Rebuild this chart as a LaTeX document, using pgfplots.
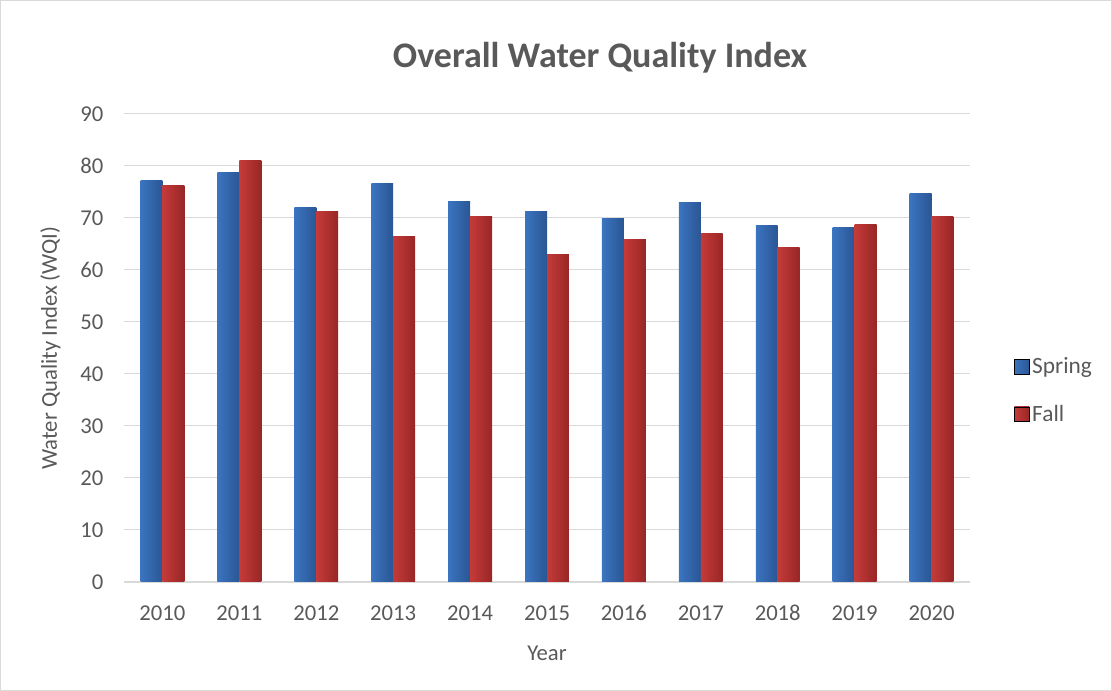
\documentclass[border=0pt]{standalone}
\usepackage{pgfplots}
\pgfplotsset{compat=1.18}
\usepackage{fontspec}
\setmainfont{Carlito}
\definecolor{txtgray}{HTML}{595959}
\definecolor{gridgray}{HTML}{D9D9D9}
\definecolor{springL}{HTML}{3B74C0}
\definecolor{springM}{HTML}{4A8AD6}
\definecolor{springR}{HTML}{2A5694}
\definecolor{fallL}{HTML}{C43B39}
\definecolor{fallM}{HTML}{DA4842}
\definecolor{fallR}{HTML}{982626}

\pgfplotstableread{
idx year spring fall
0 2010 77.3 76.2
1 2011 78.8 81.1
2 2012 72.0 71.3
3 2013 76.6 66.5
4 2014 73.2 70.3
5 2015 71.3 63.0
6 2016 69.9 65.9
7 2017 73.0 67.1
8 2018 68.6 64.4
9 2019 68.2 68.8
10 2020 74.7 70.2
}\wqi

\begin{document}
\begin{tikzpicture}[x=0.75pt,y=0.75pt]
% outer chart frame (1 px = 0.75 pt)
\draw[gridgray, line width=0.75pt] (0.5,0.5) rectangle (1111.5,690.5);
\node[font=\bfseries\fontsize{27}{30}\selectfont, text=txtgray] at (600,633) {Overall Water Quality Index};
\begin{axis}[
    at={(93pt,81.75pt)}, anchor=south west,
    scale only axis,
    width=634.5pt, height=351pt,
    xmin=-0.5, xmax=10.5,
    ymin=0, ymax=90,
    xtick={0,...,10},
    xticklabels={2010,2011,2012,2013,2014,2015,2016,2017,2018,2019,2020},
    ytick={0,10,...,90},
    ymajorgrids,
    grid style={gridgray, line width=0.75pt},
    axis x line*=bottom,
    axis y line*=left,
    y axis line style={draw=none},
    x axis line style={gridgray, line width=1.1pt, -},
    major tick length=0pt,
    tick label style={text=txtgray, font=\fontsize{17}{20}\selectfont},
    /pgf/number format/assume math mode=true,
    xlabel={Year},
    ylabel={Water Quality Index (WQI)},
    label style={text=txtgray, font=\fontsize{17}{20}\selectfont},
    xlabel style={yshift=-12pt},
    ylabel style={yshift=8pt},
    yticklabel style={xshift=-12pt},
    xticklabel style={yshift=-14pt},
    legend style={at={(1.047,0.409)}, anchor=west, draw=none, fill=none,
        font=\fontsize{17.5}{20}\selectfont, text=txtgray,
        row sep=18pt, cells={anchor=west}},
    legend image code/.code={\fill[#1] (0pt,-5.6pt) rectangle (11.25pt,5.6pt);},
]
% one plot per bar so that each bar gets its own shading
\pgfplotsinvokeforeach{0,...,10}{
  \addplot[ybar, bar width=0.285, bar shift=-0.1425, draw=none, forget plot,
      left color=springL, middle color=springM, right color=springR,
      restrict x to domain=#1:#1]
      table[x=idx, y=spring] {\wqi};
  \addplot[ybar, bar width=0.285, bar shift=0.1425, draw=none, forget plot,
      left color=fallL, middle color=fallM, right color=fallR,
      restrict x to domain=#1:#1]
      table[x=idx, y=fall] {\wqi};
}
\addlegendimage{left color=springL, middle color=springM, right color=springR}
\addlegendentry{Spring}
\addlegendimage{left color=fallL, middle color=fallM, right color=fallR}
\addlegendentry{Fall}
\end{axis}
\end{tikzpicture}
\end{document}
